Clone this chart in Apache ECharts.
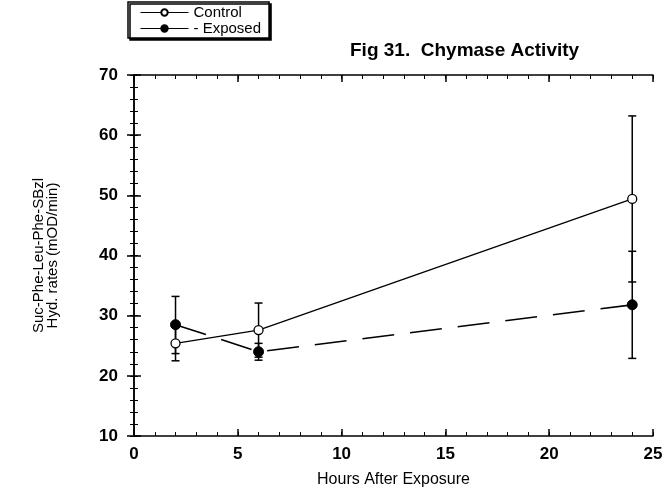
<!DOCTYPE html>
<html>
<head>
<meta charset="utf-8">
<script src="https://cdn.jsdelivr.net/npm/echarts@6/dist/echarts.min.js"></script>
<style>
html,body{margin:0;padding:0;background:#fff;}
#chart{width:671px;height:497px;}
</style>
</head>
<body>
<div id="chart"></div>
<script>
var hours = [2, 6, 24];
var controlMean = [25.4, 27.6, 49.4];
var controlLow = [22.5, 23.1, 35.6];
var controlHigh = [28.3, 32.1, 63.2];
var exposedMean = [28.5, 24.0, 31.8];
var exposedLow = [23.7, 22.6, 22.9];
var exposedHigh = [33.2, 25.4, 40.7];
var xTicks = [0, 5, 10, 15, 20, 25];
var yTicks = [10, 20, 30, 40, 50, 60, 70];

function pairs(xs, ys) { return xs.map(function (x, i) { return [x, ys[i]]; }); }
function errData(xs, lo, hi) { return xs.map(function (x, i) { return [x, lo[i], hi[i]]; }); }

function errRender(params, api) {
  var x = api.value(0);
  var lo = api.coord([x, api.value(1)]);
  var hi = api.coord([x, api.value(2)]);
  var w = 4;
  var st = { stroke: '#000', lineWidth: 1.5 };
  return {
    type: 'group',
    children: [
      { type: 'line', shape: { x1: lo[0], y1: lo[1], x2: hi[0], y2: hi[1] }, style: st },
      { type: 'line', shape: { x1: lo[0] - w, y1: lo[1], x2: lo[0] + w, y2: lo[1] }, style: st },
      { type: 'line', shape: { x1: hi[0] - w, y1: hi[1], x2: hi[0] + w, y2: hi[1] }, style: st }
    ]
  };
}

var font = 'Liberation Sans, Arial, Helvetica, sans-serif';
var chart = echarts.init(document.getElementById('chart'), null, { renderer: 'canvas' });

function majorAxis(extra) {
  return Object.assign({
    type: 'value',
    axisLine: { show: true, lineStyle: { color: '#000', width: 1.5 } },
    axisTick: { inside: true, length: 7, lineStyle: { color: '#000', width: 1.5 } },
    splitLine: { show: false },
    axisLabel: { show: false }
  }, extra);
}
function minorAxis(extra) {
  return Object.assign({
    type: 'value',
    axisLine: { show: false },
    axisTick: { show: true, inside: true, length: 4, lineStyle: { color: '#000', width: 1 } },
    splitLine: { show: false },
    axisLabel: { show: false }
  }, extra);
}

chart.setOption({
  animation: false,
  backgroundColor: '#fff',
  title: {
    text: 'Fig 31.  Chymase Activity',
    left: 345, top: 36,
    textStyle: { fontFamily: font, fontSize: 19, fontWeight: 'bold', color: '#000' }
  },
  legend: {
    orient: 'vertical',
    left: 128, top: 2,
    padding: [3, 8, 2, 12],
    itemWidth: 48, itemHeight: 8, itemGap: 1,
    backgroundColor: '#fff',
    borderColor: '#000', borderWidth: 1.5,
    shadowColor: '#000', shadowBlur: 0, shadowOffsetX: 2, shadowOffsetY: 2,
    lineStyle: { type: 'solid', width: 1 },
    textStyle: { fontFamily: font, fontSize: 15, lineHeight: 13, color: '#000' },
    formatter: function (n) { return n === 'Exposed' ? '- Exposed' : n; },
    data: ['Control', 'Exposed']
  },
  grid: { left: 134, right: 18, top: 75, bottom: 61 },
  xAxis: [
    majorAxis({
      min: 0, max: 25, interval: 5, position: 'bottom',
      name: 'Hours After Exposure', nameLocation: 'middle', nameGap: 36,
      nameTextStyle: { fontFamily: font, fontSize: 16, color: '#000' },
      axisLabel: { show: true, fontFamily: font, fontSize: 17, fontWeight: 'bold', color: '#000', margin: 10,
        formatter: function (v) { return xTicks.indexOf(v) >= 0 ? String(v) : ''; } }
    }),
    majorAxis({ min: 0, max: 25, interval: 5, position: 'top' }),
    minorAxis({ min: 0, max: 25, interval: 1, position: 'bottom' }),
    minorAxis({ min: 0, max: 25, interval: 1, position: 'top' })
  ],
  yAxis: [
    majorAxis({
      min: 10, max: 70, interval: 10, position: 'left',
      name: 'Suc-Phe-Leu-Phe-SBzl\nHyd. rates (mOD/min)', nameLocation: 'middle', nameGap: 74,
      nameTextStyle: { fontFamily: font, fontSize: 15, color: '#000', lineHeight: 14 },
      axisLabel: { show: true, fontFamily: font, fontSize: 17, fontWeight: 'bold', color: '#000', margin: 16,
        formatter: function (v) { return yTicks.indexOf(v) >= 0 ? String(v) : ''; } }
    }),
    majorAxis({ min: 10, max: 70, interval: 10, position: 'right' }),
    minorAxis({ min: 10, max: 70, interval: 2, position: 'left' }),
    minorAxis({ min: 10, max: 70, interval: 2, position: 'right' })
  ],
  series: [
    {
      type: 'custom', name: 'ctrlErr', renderItem: errRender, z: 1,
      data: errData(hours, controlLow, controlHigh), silent: true
    },
    {
      type: 'custom', name: 'expErr', renderItem: errRender, z: 1,
      data: errData(hours, exposedLow, exposedHigh), silent: true
    },
    {
      type: 'line', name: 'Control', z: 3,
      data: pairs(hours, controlMean),
      symbol: 'circle', symbolSize: 9,
      lineStyle: { color: '#000', width: 1.3, type: 'solid' },
      itemStyle: { color: '#fff', borderColor: '#000', borderWidth: 1.3 }
    },
    {
      type: 'line', name: 'Exposed', z: 3,
      data: pairs(hours, exposedMean),
      symbol: 'circle', symbolSize: 10,
      lineStyle: { color: '#000', width: 1.6, type: [32, 16] },
      itemStyle: { color: '#000', borderColor: '#000', borderWidth: 1 }
    }
  ]
});
</script>
</body>
</html>
